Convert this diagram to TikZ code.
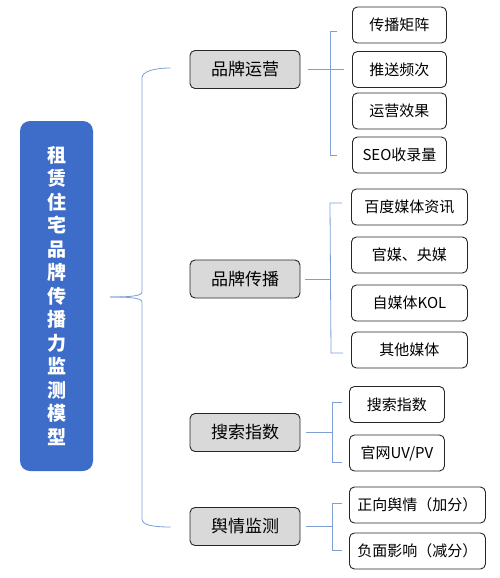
\documentclass[tikz,border=0pt]{standalone}
\usepackage{fontspec}
\setmainfont{Noto Sans CJK SC}
\usetikzlibrary{calc}
\definecolor{rootblue}{HTML}{3D6CC9}
\definecolor{brkblue}{HTML}{7E9ED6}
\definecolor{catgray}{HTML}{D9D9D9}
\begin{document}
\begin{tikzpicture}[x=1pt, y=-1pt,
rootbox/.style={fill=rootblue, rounded corners=10pt, minimum width=73pt, minimum height=350pt, text=white, align=center, font=\fontsize{19}{23.5}\selectfont\bfseries, inner sep=0pt},
catbox/.style={draw=black!85, line width=0.9pt, fill=catgray, rounded corners=5pt, minimum width=110pt, minimum height=38pt, font=\fontsize{17}{20}\selectfont, inner sep=0pt},
itembox/.style={draw=black!85, line width=0.9pt, fill=white, rounded corners=5pt, minimum height=36pt, anchor=west, font=\fontsize{15}{18}\selectfont, inner sep=0pt},
brk/.style={draw=brkblue, line width=0.8pt}]
\useasboundingbox (0,0) rectangle (500,578);
\node[rootbox] (root) at (56.5,296) {租\\赁\\住\\宅\\品\\牌\\传\\播\\力\\监\\测\\模\\型};
\node[catbox] (yy) at (245,69.5) {品牌运营};
\node[catbox] (cb) at (245,279) {品牌传播};
\node[catbox] (ss) at (245,432.5) {搜索指数};
\node[catbox] (yq) at (245,526.5) {舆情监测};
\node[itembox, minimum width=94pt] (b1) at (352,25) {传播矩阵};
\node[itembox, minimum width=94pt] (b2) at (352,69.5) {推送频次};
\node[itembox, minimum width=94pt] (b3) at (352,111) {运营效果};
\node[itembox, minimum width=94pt] (b4) at (352,155) {SEO收录量};
\node[itembox, minimum width=116pt] (c1) at (351,207) {百度媒体资讯};
\node[itembox, minimum width=116pt] (c2) at (351,255) {官媒、央媒};
\node[itembox, minimum width=116pt] (c3) at (351,303) {自媒体KOL};
\node[itembox, minimum width=116pt] (c4) at (351,350) {其他媒体};
\node[itembox, minimum width=95pt] (s1) at (349,404.5) {搜索指数};
\node[itembox, minimum width=95pt] (s2) at (349,453) {官网UV/PV};
\node[itembox, minimum width=136pt] (q1) at (349,505) {正向舆情（加分）};
\node[itembox, minimum width=136pt] (q2) at (349,551) {负面影响（减分）};
\draw[brk] ($(root.east)+(17,1)$) .. controls +(20,0) and +(0,4) .. (142,292) -- (142,78) .. controls +(0,-6) and +(-18,0) .. ($(yy.west)+(-19,-1.5)$);
\draw[brk] ($(root.east)+(17,1)$) .. controls +(20,0) and +(0,-4) .. (142,302) -- (142,519) .. controls +(0,6) and +(-18,0) .. ($(yq.west)+(-19,0.5)$);
\draw[brk] ($(yy.east)+(8,0)$) -- ($(b2.west)+(-8,0)$);
\draw[brk] ($(b1.west)+(-15,6)$) -- ++(-7,0) -- ($(b4.west)+(-22,0)$) -- ++(7,0);
\draw[brk] ($(cb.east)+(5,0)$) -- ++(25,0);
\draw[brk] ($(c1.west)+(-9,-4)$) -- ++(-12,0) -- ($(c4.west)+(-20,3)$) -- ++(12,0);
\draw[brk] ($(ss.east)+(6,0)$) -- ++(26,0);
\draw[brk] ($(s1.west)+(-7,-2.5)$) -- ++(-10,0) -- ($(s2.west)+(-17,9)$) -- ++(10,0);
\draw[brk] ($(yq.east)+(6,0)$) -- ++(26,0);
\draw[brk] ($(q1.west)+(-7,-2)$) -- ++(-10,0) -- ($(q2.west)+(-17,-1)$) -- ++(10,0);
\end{tikzpicture}
\end{document}
